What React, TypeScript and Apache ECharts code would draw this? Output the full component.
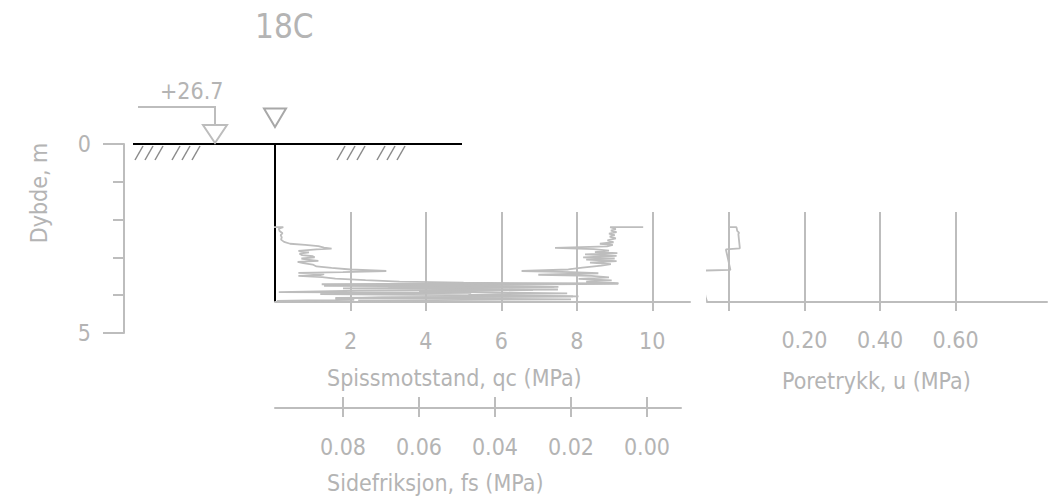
import React, { useEffect, useRef } from "react";
import * as echarts from "echarts";

// ---------- data ----------
const title = "18C";
const elevationLabel = "+26.7";
const depthAxisName = "Dybde, m";
const qcName = "Spissmotstand, qc (MPa)";
const fsName = "Sidefriksjon, fs (MPa)";
const uName = "Poretrykk, u (MPa)";

const depthLabelValues = [0, 5];
const qcTicks = [2, 4, 6, 8, 10];
const fsTicks = [0, 0.02, 0.04, 0.06, 0.08];
const uTicks = [0, 0.2, 0.4, 0.6];
const uLabelValues = [0.2, 0.4, 0.6];

const qcDepth = [2.2, 2.2, 2.24, 2.3, 2.36, 2.41, 2.47, 2.53, 2.59, 2.64, 2.67, 2.7, 2.74, 2.77, 2.79, 2.83, 2.87, 2.9, 2.94, 2.97, 3.0, 3.03, 3.06, 3.09, 3.12, 3.15, 3.19, 3.24, 3.28, 3.32, 3.36, 3.39, 3.41, 3.44, 3.47, 3.49, 3.52, 3.56, 3.6, 3.64, 3.67, 3.7, 3.72, 3.75, 3.78, 3.81, 3.85, 3.88, 3.92, 3.94, 3.97, 4.0, 4.03, 4.06, 4.09, 4.12, 4.15];
const qcValues = [-0.22, 0.22, 0.1, 0.12, 0.2, 0.15, 0.18, 0.16, 0.24, 0.4, 0.8, 1.15, 1.3, 1.5, 1.1, 0.62, 0.9, 0.65, 0.72, 1.0, 1.05, 0.7, 0.85, 1.15, 0.6, 0.75, 1.0, 1.1, 1.5, 2.0, 2.95, 1.8, 0.62, 1.3, 1.2, 0.62, 1.25, 1.6, 2.4, 3.3, 5.0, 9.1, 6.0, 1.3, 7.4, 3.0, 7.5, 2.2, 0.1, 5.2, 1.2, 4.6, 7.9, 2.8, 1.6, 2.1, 0.05];

const fsDepth = [2.2, 2.2, 2.25, 2.29, 2.33, 2.37, 2.41, 2.45, 2.5, 2.55, 2.6, 2.64, 2.67, 2.71, 2.75, 2.78, 2.82, 2.86, 2.89, 2.92, 2.96, 3.0, 3.03, 3.06, 3.1, 3.14, 3.18, 3.22, 3.27, 3.32, 3.36, 3.39, 3.42, 3.46, 3.49, 3.53, 3.57, 3.61, 3.64, 3.68, 3.71, 3.74, 3.78, 3.82, 3.86, 3.9, 3.95, 3.99, 4.03, 4.07, 4.11, 4.14, 4.16];
const fsValues = [0.001, 0.0097, 0.0082, 0.0095, 0.008, 0.01, 0.0085, 0.0098, 0.0082, 0.0104, 0.0088, 0.0124, 0.009, 0.0105, 0.0242, 0.014, 0.01, 0.0137, 0.0078, 0.0163, 0.008, 0.0168, 0.0085, 0.016, 0.008, 0.015, 0.0095, 0.012, 0.017, 0.0207, 0.033, 0.02, 0.0128, 0.0286, 0.0146, 0.01, 0.018, 0.0093, 0.016, 0.0075, 0.0856, 0.05, 0.0233, 0.08, 0.03, 0.06, 0.021, 0.047, 0.018, 0.082, 0.02, 0.076, 0.05];

const uDepth = [2.2, 2.2, 2.3, 2.35, 2.38, 2.76, 2.79, 3.33, 3.35, 3.5, 3.8, 4.04, 4.17];
const uValues = [0.0, 0.02, 0.022, 0.027, 0.025, 0.029, -0.008, 0.004, -0.072, -0.07, -0.066, -0.062, -0.058];

// ---------- style ----------
const FONT = "DejaVu Sans Condensed";
const TXT = "#b4b4b4";
const LINE = "#bdbdbd";
const HATCH = "#8a8a8a";

const hatchBottoms = [135, 145, 155, 172, 182, 192, 337, 347, 357, 377, 387, 397];

export default function App() {
  const ref = useRef<HTMLDivElement>(null);

  useEffect(() => {
    if (!ref.current) return;
    const chart = echarts.init(ref.current, null, { renderer: "svg" });

    const hiddenY = (gridIndex: number) => ({
      type: "value",
      gridIndex,
      min: 1.8,
      max: 4.18,
      inverse: true,
      show: false,
    });

    const graphic: any[] = [
      // ground line
      { type: "line", shape: { x1: 133, y1: 144, x2: 462, y2: 144 }, style: { stroke: "#000", lineWidth: 2 } },
      // sounding line
      { type: "line", shape: { x1: 275, y1: 144, x2: 275, y2: 302 }, style: { stroke: "#000", lineWidth: 2 } },
      // elevation marker
      { type: "polyline", shape: { points: [[138, 107], [215, 107], [215, 125]] }, style: { stroke: LINE, lineWidth: 2, fill: "none" } },
      { type: "polygon", shape: { points: [[203, 125], [227, 125], [215, 143]] }, style: { stroke: LINE, lineWidth: 2, fill: "none" } },
      { type: "polygon", shape: { points: [[264, 108.5], [286, 108.5], [275, 127]] }, style: { stroke: "#a8a8a8", lineWidth: 2, fill: "none" } },
      { type: "text", x: 160, y: 91, style: { text: elevationLabel, fill: TXT, fontSize: 23, fontFamily: FONT, align: "left", verticalAlign: "middle" } },
      // depth axis name
      { type: "text", x: 39, y: 193, rotation: Math.PI / 2, style: { text: depthAxisName, fill: TXT, fontSize: 23, fontFamily: FONT, align: "center", verticalAlign: "middle" } },
      // axis names
      { type: "text", x: 327, y: 378, style: { text: qcName, fill: TXT, fontSize: 23, fontFamily: FONT, align: "left", verticalAlign: "middle" } },
      { type: "text", x: 327, y: 483, style: { text: fsName, fill: TXT, fontSize: 23, fontFamily: FONT, align: "left", verticalAlign: "middle" } },
      { type: "text", x: 782, y: 381, style: { text: uName, fill: TXT, fontSize: 23, fontFamily: FONT, align: "left", verticalAlign: "middle" } },
    ];
    hatchBottoms.forEach((x) => {
      graphic.push({ type: "line", shape: { x1: x, y1: 160, x2: x + 8, y2: 146 }, style: { stroke: HATCH, lineWidth: 1.5 } });
    });

    const labelStyle = { color: TXT, fontSize: 23, fontFamily: FONT };

    const option: any = {
      animation: false,
      title: {
        text: title,
        left: 250,
        top: 5,
        textStyle: { color: TXT, fontSize: 33, fontWeight: "normal", fontFamily: FONT },
      },
      grid: [
        { left: 124, top: 144, width: 1, height: 189 },
        { left: 275, top: 212, width: 415, height: 90 },
        { left: 275, top: 212, width: 406, height: 90 },
        { left: 707, top: 212, width: 340, height: 90 },
      ],
      xAxis: [
        { type: "value", gridIndex: 0, show: false, min: 0, max: 1 },
        {
          type: "value",
          gridIndex: 1,
          min: 0,
          max: 11,
          position: "bottom",
          axisLine: { show: true, lineStyle: { color: LINE, width: 2 } },
          axisTick: { show: true, inside: false, length: 9, lineStyle: { color: LINE, width: 2 }, customValues: qcTicks },
          axisLabel: { ...labelStyle, margin: 27, customValues: qcTicks, formatter: (v: number) => String(v) },
          splitLine: { show: true, lineStyle: { color: LINE, width: 2 } },
        },
        {
          type: "value",
          gridIndex: 2,
          min: -0.00895,
          max: 0.09789,
          inverse: true,
          position: "bottom",
          offset: 106,
          axisLine: { show: true, lineStyle: { color: LINE, width: 2 } },
          axisTick: { show: true, inside: false, length: 9, lineStyle: { color: LINE, width: 2 }, customValues: fsTicks },
          axisLabel: { ...labelStyle, margin: 27, customValues: fsTicks, formatter: (v: number) => v.toFixed(2) },
          splitLine: { show: false },
        },
        {
          type: "value",
          gridIndex: 2,
          min: -0.00895,
          max: 0.09789,
          inverse: true,
          position: "bottom",
          offset: 106,
          axisLine: { show: false },
          axisTick: { show: true, inside: true, length: 11, lineStyle: { color: LINE, width: 2 }, customValues: fsTicks },
          axisLabel: { show: false },
          splitLine: { show: false },
        },
        {
          type: "value",
          gridIndex: 3,
          min: -0.058,
          max: 0.842,
          position: "bottom",
          axisLine: { show: true, lineStyle: { color: LINE, width: 2 } },
          axisTick: { show: true, inside: false, length: 9, lineStyle: { color: LINE, width: 2 }, customValues: uTicks },
          axisLabel: { ...labelStyle, margin: 26, customValues: uLabelValues, formatter: (v: number) => v.toFixed(2) },
          splitLine: { show: true, lineStyle: { color: LINE, width: 2 } },
        },
      ],
      yAxis: [
        {
          type: "value",
          gridIndex: 0,
          min: 0,
          max: 5,
          interval: 5,
          inverse: true,
          position: "left",
          axisLine: { show: true, lineStyle: { color: LINE, width: 2 } },
          axisTick: { show: true, length: 21, lineStyle: { color: LINE, width: 2 } },
          axisLabel: { ...labelStyle, margin: 33, customValues: depthLabelValues, formatter: (v: number) => String(v) },
          splitLine: { show: false },
        },
        {
          type: "value",
          gridIndex: 0,
          min: 0,
          max: 5,
          interval: 1,
          inverse: true,
          position: "left",
          axisLine: { show: false },
          axisTick: { show: true, length: 11, lineStyle: { color: LINE, width: 2 } },
          axisLabel: { show: false },
          splitLine: { show: false },
        },
        hiddenY(1),
        hiddenY(2),
        hiddenY(3),
      ],
      series: [
        {
          name: "qc",
          type: "line",
          xAxisIndex: 1,
          yAxisIndex: 2,
          data: qcDepth.map((d, i) => [qcValues[i], d]),
          showSymbol: false,
          clip: false,
          lineStyle: { color: LINE, width: 1.8 },
        },
        {
          name: "fs",
          type: "line",
          xAxisIndex: 2,
          yAxisIndex: 3,
          data: fsDepth.map((d, i) => [fsValues[i], d]),
          showSymbol: false,
          clip: false,
          lineStyle: { color: LINE, width: 1.8 },
        },
        {
          name: "u",
          type: "line",
          xAxisIndex: 4,
          yAxisIndex: 4,
          data: uDepth.map((d, i) => [uValues[i], d]),
          showSymbol: false,
          clip: false,
          lineStyle: { color: LINE, width: 1.8 },
        },
      ],
      graphic,
    };

    chart.setOption(option);
    return () => chart.dispose();
  }, []);

  return (
    <div
      ref={ref}
      style={{ position: "fixed", left: 0, top: 0, width: 1051, height: 503, background: "#fff" }}
    />
  );
}
